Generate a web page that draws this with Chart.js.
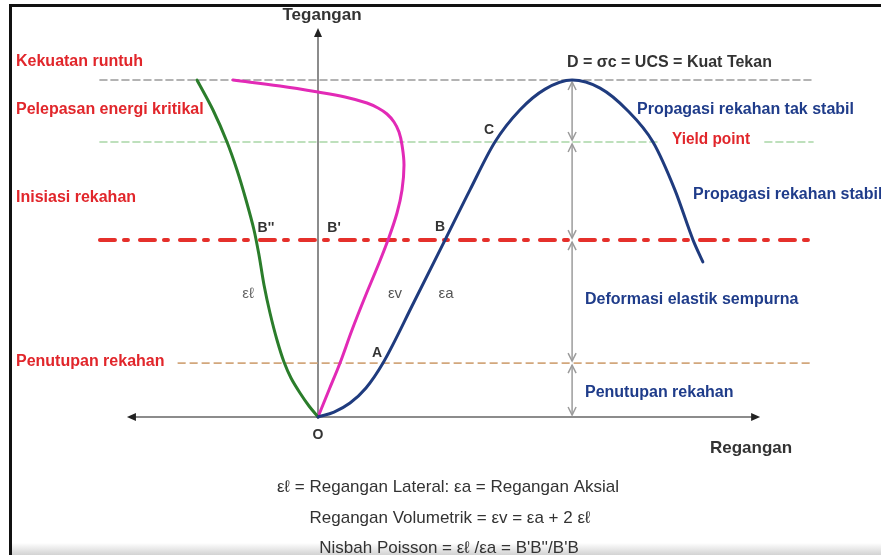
<!DOCTYPE html>
<html>
<head>
<meta charset="utf-8">
<script src="https://cdn.jsdelivr.net/npm/chart.js@4"></script>
<style>
  body { margin: 0; background: #fff; }
  canvas { display: block; }
</style>
</head>
<body>
<canvas id="StressStrain" width="881" height="555"></canvas>
<script>
// strain (x) and stress (y), stress at D = 100
const axialX = [0, 4.75, 9.5, 14.24, 19.29, 28.49, 37.69, 45.1, 52.5, 59.9, 67.4, 75.4, 83.7, 91.7, 99.4, 105.9, 111.3, 114.2];
const axialY = [0, 1.48, 4.15, 8.61, 16.02, 34.12, 52.5, 67.4, 81.6, 91.1, 97.3, 100, 97.6, 91.1, 81.6, 67.4, 52.5, 46.0];

const lateralX = [0, -2.67, -5.34, -8.01, -10.09, -12.17, -14.24, -16.02, -17.51, -18.99, -21.36, -24.04, -27.0, -31.16, -35.91];
const lateralY = [0, 3.26, 7.12, 11.57, 16.32, 22.85, 30.86, 39.17, 48.07, 55.49, 64.39, 73.29, 81.6, 91.1, 100];

const volumetricX = [0, 3.26, 6.53, 10.09, 13.95, 17.51, 20.77, 23.44, 24.93, 25.52, 24.93, 24.04, 22.55, 20.47, 17.8, 14.54, 8.01, 0, -11.28, -25.22];
const volumetricY = [0, 8.01, 16.02, 25.82, 35.61, 44.21, 52.52, 60.53, 67.36, 74.78, 80.71, 84.57, 87.54, 89.91, 91.69, 93.18, 94.96, 96.44, 98.22, 100];

// horizontal stress levels
const levelNames = ["Kekuatan runtuh", "Yield point", "Inisiasi rekahan", "Penutupan rekahan"];
const levelStress = [100, 81.6, 52.5, 16.0];
const levelStart = [-64.7, -64.7, -64.7, -41.5];
const levelEnd = [146.9, 146.9, 146.9, 146.9];

const peakStrain = 75.4;

function toPoints(xs, ys) {
    return xs.map((x, i) => ({ x: x, y: ys[i] }));
}

function levelLine(i, from, to) {
    return [{ x: from, y: levelStress[i] }, { x: to, y: levelStress[i] }];
}

const levelStyles = [
    { color: "#9a9a9a", dash: [7, 4], width: 1.6 },
    { color: "#a9d6a6", dash: [7, 4], width: 1.6 },
    { color: "#e5302b", dash: [15, 9, 4, 12], width: 4 },
    { color: "#d2a77c", dash: [7, 5], width: 1.6 }
];

const datasets = [
    { label: "εa", data: toPoints(axialX, axialY), borderColor: "#1f3b7e", borderWidth: 3, cubicInterpolationMode: "monotone", order: 1 },
    { label: "εℓ", data: toPoints(lateralX, lateralY), indexAxis: "y", borderColor: "#2b7d2b", borderWidth: 3, cubicInterpolationMode: "monotone", order: 1 },
    { label: "εv", data: toPoints(volumetricX, volumetricY), borderColor: "#e22ab6", borderWidth: 3, tension: 0.4, order: 1 }
];

levelNames.forEach((name, i) => {
    const style = levelStyles[i];
    if (name === "Yield point") {
        datasets.push({ label: name, data: levelLine(i, levelStart[i], 101.5), borderColor: style.color, borderDash: style.dash, borderWidth: style.width, order: 2 });
        datasets.push({ label: name + " 2", data: levelLine(i, 132.6, levelEnd[i]), borderColor: style.color, borderDash: style.dash, borderWidth: style.width, order: 2 });
    } else {
        datasets.push({ label: name, data: levelLine(i, levelStart[i], levelEnd[i]), borderColor: style.color, borderDash: style.dash, borderWidth: style.width, order: 2 });
    }
});

function filledArrow(ctx, x, y, dir) {
    ctx.beginPath();
    if (dir === "up") {
        ctx.moveTo(x, y); ctx.lineTo(x - 4, y + 9); ctx.lineTo(x + 4, y + 9);
    } else if (dir === "left") {
        ctx.moveTo(x, y); ctx.lineTo(x + 9, y - 4); ctx.lineTo(x + 9, y + 4);
    } else {
        ctx.moveTo(x, y); ctx.lineTo(x - 9, y - 4); ctx.lineTo(x - 9, y + 4);
    }
    ctx.closePath();
    ctx.fill();
}

function openHead(ctx, x, y, up) {
    const d = up ? 1 : -1;
    ctx.beginPath();
    ctx.moveTo(x - 4, y + 8 * d);
    ctx.lineTo(x, y);
    ctx.lineTo(x + 4, y + 8 * d);
    ctx.stroke();
}

const diagramPlugin = {
    id: "diagram",
    beforeDatasetsDraw(chart) {
        const ctx = chart.ctx;
        const xs = chart.scales.x;
        const ys = chart.scales.y;
        ctx.save();

        // frame
        ctx.fillStyle = "#111";
        ctx.fillRect(9, 4, 872, 3);
        ctx.fillRect(9, 4, 3, 551);
        const grad = ctx.createLinearGradient(0, 543, 0, 555);
        grad.addColorStop(0, "rgba(200,200,200,0)");
        grad.addColorStop(1, "rgba(200,200,200,0.8)");
        ctx.fillStyle = grad;
        ctx.fillRect(12, 543, 869, 12);

        // axes
        const ox = xs.getPixelForValue(0);
        const oy = ys.getPixelForValue(0);
        const left = xs.getPixelForValue(-56.7);
        const right = xs.getPixelForValue(131.2);
        const top = ys.getPixelForValue(115.4);
        ctx.strokeStyle = "#8c8c8c";
        ctx.lineWidth = 2;
        ctx.beginPath();
        ctx.moveTo(left + 4, oy); ctx.lineTo(right - 4, oy);
        ctx.moveTo(ox, oy); ctx.lineTo(ox, top + 4);
        ctx.stroke();
        ctx.fillStyle = "#222";
        filledArrow(ctx, ox, top, "up");
        filledArrow(ctx, left, oy, "left");
        filledArrow(ctx, right, oy, "right");

        // vertical span arrows at the peak strain
        const px = xs.getPixelForValue(peakStrain);
        const stops = levelStress.concat([0]);
        ctx.strokeStyle = "#9c9c9c";
        ctx.lineWidth = 1.5;
        for (let i = 0; i < stops.length - 1; i++) {
            const y1 = ys.getPixelForValue(stops[i]) + 2;
            const y2 = ys.getPixelForValue(stops[i + 1]) - 2;
            ctx.beginPath();
            ctx.moveTo(px, y1); ctx.lineTo(px, y2);
            ctx.stroke();
            openHead(ctx, px, y1, true);
            openHead(ctx, px, y2, false);
        }
        ctx.restore();
    },
    afterDatasetsDraw(chart) {
        const ctx = chart.ctx;
        ctx.save();
        ctx.textBaseline = "middle";

        const put = (text, x, y, font, color, align, maxWidth) => {
            ctx.font = font;
            ctx.fillStyle = color;
            ctx.textAlign = align || "left";
            if (maxWidth) ctx.fillText(text, x, y, maxWidth);
            else ctx.fillText(text, x, y);
        };

        const red = "#e1262b";
        const blue = "#1f3c8a";
        const dark = "#333";
        const sans = "'Liberation Sans', Arial, sans-serif";

        // left labels
        put("Kekuatan runtuh", 16, 62, "bold 16px " + sans, red, "left", 128);
        put("Pelepasan energi kritikal", 16, 110, "bold 16px " + sans, red, "left", 190);
        put("Inisiasi rekahan", 16, 198, "bold 16px " + sans, red, "left", 122);
        put("Penutupan rekahan", 16, 362, "bold 16px " + sans, red, "left", 150);

        // axis titles
        put("Tegangan", 322, 15, "bold 17px " + sans, dark, "center", 85);
        put("Regangan", 710, 448, "bold 17px " + sans, dark, "left", 87);
        put("D = σc = UCS = Kuat Tekan", 567, 63, "bold 16px " + sans, dark, "left", 216);

        // right side annotations
        put("Propagasi rekahan tak stabil", 637, 110, "bold 16px " + sans, blue, "left", 220);
        put("Yield point", 672, 140, "bold 16px " + sans, red, "left", 78);
        put("Propagasi rekahan stabil", 693, 195, "bold 16px " + sans, blue, "left");
        put("Deformasi elastik sempurna", 585, 300, "bold 16px " + sans, blue, "left", 215);
        put("Penutupan rekahan", 585, 393, "bold 16px " + sans, blue, "left", 150);

        // points
        put("O", 318, 435, "bold 14px " + sans, dark, "center");
        put("A", 377, 353, "bold 14px " + sans, dark, "center");
        put("B''", 266, 228, "bold 14px " + sans, dark, "center");
        put("B'", 334, 228, "bold 14px " + sans, dark, "center");
        put("B", 440, 227, "bold 14px " + sans, dark, "center");
        put("C", 489, 130, "bold 14px " + sans, dark, "center");

        // curve names
        put("εℓ", 248, 294, "15px " + sans, "#666", "center");
        put("εv", 395, 294, "15px " + sans, "#555", "center");
        put("εa", 446, 294, "15px " + sans, "#555", "center");

        // formulas
        put("εℓ = Regangan Lateral: εa = Regangan Aksial", 448, 487, "17px " + sans, dark, "center", 381);
        put("Regangan Volumetrik = εv = εa + 2 εℓ", 450, 518, "17px " + sans, dark, "center", 295);
        put("Nisbah Poisson = εℓ /εa = B'B''/B'B", 449, 548, "17px " + sans, dark, "center", 293);

        ctx.restore();
    }
};

new Chart(document.getElementById("StressStrain").getContext("2d"), {
    type: "scatter",
    data: { datasets: datasets },
    options: {
        responsive: false,
        animation: false,
        showLine: true,
        layout: { padding: 0 },
        elements: {
            point: { radius: 0, hoverRadius: 0 },
            line: { fill: false, borderCapStyle: "round" }
        },
        scales: {
            x: { type: "linear", display: false, min: -94.362, max: 167.062 },
            y: { type: "linear", display: false, min: -40.95, max: 123.739 }
        },
        plugins: {
            legend: { display: false },
            tooltip: { enabled: false }
        }
    },
    plugins: [diagramPlugin]
});
</script>
</body>
</html>
